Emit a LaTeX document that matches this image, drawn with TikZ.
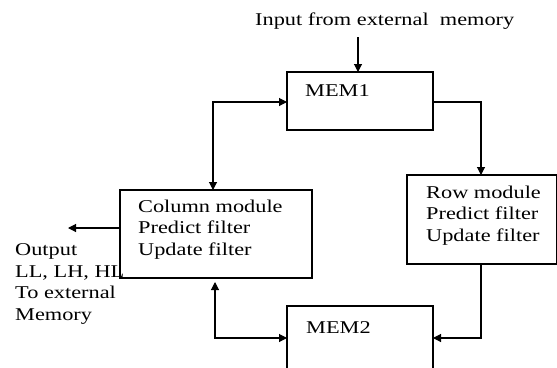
\documentclass[tikz,border=0pt]{standalone}
\usepackage{fontspec}
\setmainfont{Liberation Serif}[FakeStretch=1.24]
\usetikzlibrary{arrows.meta}
\tikzset{
  box/.style={draw, line width=1.1pt, rectangle, inner sep=0pt, outer sep=0pt, anchor=north west},
  txt/.style={inner sep=0pt, anchor=base west, align=left, font=\fontsize{18}{21.5}\selectfont},
  link/.style={line width=1.1pt},
  tip/.style={-{Triangle[length=8pt,width=8pt]}},
  tips/.style={{Triangle[length=8pt,width=8pt]}-{Triangle[length=8pt,width=8pt]}}
}
\begin{document}
\begin{tikzpicture}[x=1pt,y=-1pt]
\useasboundingbox (0,0) rectangle (557,367);
\clip (0,0) rectangle (557,367);

% blocks
\node[box, minimum width=146pt, minimum height=58pt] (mem1) at (287,72) {};
\node[box, minimum width=192pt, minimum height=88pt] (col) at (120,190) {};
\node[box, minimum width=150pt, minimum height=89pt] (row) at (407,175) {};
\node[box, minimum width=146pt, minimum height=90pt] (mem2) at (287,306) {};

% labels (a multi-line label sits on the baseline of its last line)
\node[txt] (intxt) at (255,25) {Input from external~~memory};
\node[txt] (mem1txt) at (305,96) {MEM1};
\node[txt] (mem2txt) at (306,333) {MEM2};
\node[txt] (coltxt) at (138,255) {Column module\\Predict filter\\Update filter};
\node[txt] (rowtxt) at (426,241) {Row module\\Predict filter\\Update filter};
\node[txt] (outtxt) at (15,320) {Output\\LL, LH, HL\\To external\\Memory};

% connectors
\coordinate (inp) at (358,37);
\draw[link, tip] (inp) -- (inp |- mem1.north);

\coordinate (c1) at (213,102);
\draw[link, tips] (c1 -| mem1.west) -- (c1) -- (c1 |- col.north);

\coordinate (c2) at (481,102);
\draw[link, tip] (c2 -| mem1.east) -- (c2) -- (c2 |- row.north);

\coordinate (c3) at (481,338);
\draw[link, tip] (c3 |- row.south) -- (c3) -- (c3 -| mem2.east);

\coordinate (c4) at (215,338);
\draw[link, tips, shorten <=4pt] (c4 |- col.south) -- (c4) -- (c4 -| mem2.west);

\coordinate (out) at (68,228);
\draw[link, tip] (out -| col.west) -- (out);
\end{tikzpicture}
\end{document}
